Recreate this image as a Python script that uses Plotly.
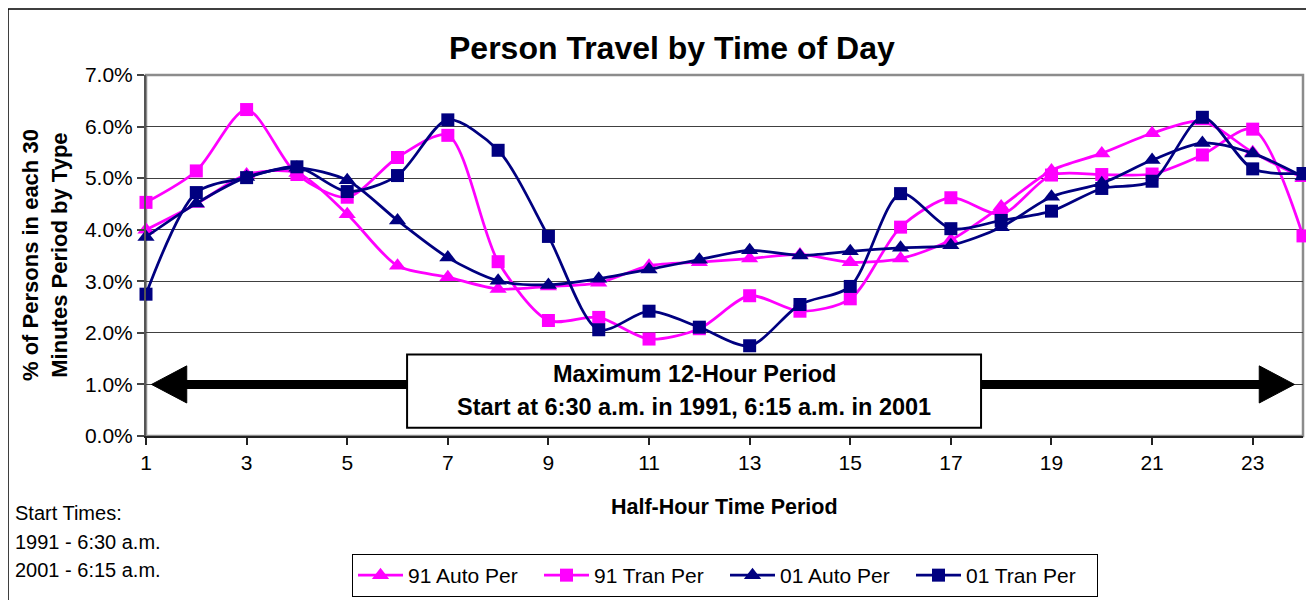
import plotly.graph_objects as go

periods = list(range(1, 25))
auto91 = [4.0, 4.5, 5.07, 5.1, 4.3, 3.3, 3.08, 2.85, 2.9, 2.97, 3.3, 3.37, 3.44, 3.52, 3.37, 3.44, 3.8, 4.45, 5.15, 5.48, 5.87, 6.1, 5.5, 5.0]
tran91 = [4.53, 5.14, 6.33, 5.07, 4.63, 5.4, 5.83, 3.38, 2.24, 2.3, 1.88, 2.08, 2.72, 2.42, 2.66, 4.05, 4.62, 4.3, 5.06, 5.07, 5.08, 5.45, 5.95, 3.88]
auto01 = [3.86, 4.51, 5.02, 5.2, 4.96, 4.18, 3.46, 3.01, 2.93, 3.05, 3.23, 3.42, 3.6, 3.5, 3.58, 3.65, 3.7, 4.05, 4.64, 4.9, 5.35, 5.68, 5.48, 5.03]
tran01 = [2.75, 4.72, 5.01, 5.22, 4.74, 5.05, 6.13, 5.54, 3.87, 2.06, 2.42, 2.11, 1.75, 2.55, 2.9, 4.7, 4.02, 4.18, 4.36, 4.8, 4.94, 6.18, 5.18, 5.09]
series_names = ["91 Auto Per", "91 Tran Per", "01 Auto Per", "01 Tran Per"]
x_ticks = [1, 3, 5, 7, 9, 11, 13, 15, 17, 19, 21, 23]
y_ticks = [0, 1, 2, 3, 4, 5, 6, 7]

MAG = "#FF00FF"
NAVY = "#000080"
FONT = "Arial, Liberation Sans, sans-serif"

fig = go.Figure()
specs = [
    (auto91, series_names[0], MAG, "triangle-up", 15),
    (tran91, series_names[1], MAG, "square", 13),
    (auto01, series_names[2], NAVY, "triangle-up", 15),
    (tran01, series_names[3], NAVY, "square", 13),
]
for vals, name, col, sym, sz in specs:
    fig.add_trace(go.Scatter(
        x=periods, y=vals, name=name, mode="lines+markers",
        line=dict(color=col, width=2.75, shape="spline", smoothing=0.8),
        marker=dict(symbol=sym, size=sz, color=col),
        cliponaxis=False,
    ))

OFF = 8  # page body margin
W, H = 1314 - OFF, 600 - OFF
L = 146 - OFF
T = 75 - OFF
R = W - (1303 - OFF)
B = H - (436 - OFF)
pw, ph = W - L - R, H - T - B

def px(xp):
    return (xp - OFF - L) / pw

def py(yp):
    return (H - B - (yp - OFF)) / ph

shapes = []
# outer chart frame
shapes.append(dict(type="rect", xref="paper", yref="paper", x0=px(8), x1=px(1330), y0=py(620), y1=py(9),
                   line=dict(color="black", width=1.5), fillcolor="rgba(0,0,0,0)", layer="below"))
# plot-area border (gray top/right)
shapes.append(dict(type="rect", xref="paper", yref="paper", x0=0, x1=1, y0=0, y1=1,
                   line=dict(color="#8c8c8c", width=2.5), layer="below"))
# double-headed arrow at 1.0%
shapes.append(dict(type="line", xref="x", yref="y", x0=1.75, x1=23.2, y0=1.0, y1=1.0,
                   line=dict(color="black", width=9)))
shapes.append(dict(type="path", xref="x", yref="y", path="M 1.11,1.0 L 1.81,1.36 L 1.81,0.64 Z",
                   fillcolor="black", line=dict(color="black", width=1)))
shapes.append(dict(type="path", xref="x", yref="y", path="M 23.83,1.0 L 23.13,1.36 L 23.13,0.64 Z",
                   fillcolor="black", line=dict(color="black", width=1)))
# text box
shapes.append(dict(type="rect", xref="x", yref="y", x0=6.19, x1=17.6, y0=0.16, y1=1.58,
                   fillcolor="white", line=dict(color="black", width=2)))

annotations = [
    dict(text="<b>Person Travel by Time of Day</b>", xref="paper", yref="paper", x=px(672), y=py(48),
         xanchor="center", yanchor="middle", showarrow=False, font=dict(size=32, color="black", family=FONT)),
    dict(text="<b>% of Persons in each 30<br>Minutes Period by Type</b>", xref="paper", yref="paper",
         x=px(45), y=py(255), textangle=-90, xanchor="center", yanchor="middle", showarrow=False,
         font=dict(size=22, color="black", family=FONT)),
    dict(text="<b>Half-Hour Time Period</b>", xref="paper", yref="paper", x=px(724), y=py(507),
         xanchor="center", yanchor="middle", showarrow=False, font=dict(size=21.5, color="black", family=FONT)),
    dict(text="Start Times:", xref="paper", yref="paper", x=px(13), y=py(513),
         xanchor="left", yanchor="middle", showarrow=False, font=dict(size=20, color="black", family=FONT)),
    dict(text="1991 - 6:30 a.m.", xref="paper", yref="paper", x=px(13), y=py(542),
         xanchor="left", yanchor="middle", showarrow=False, font=dict(size=20, color="black", family=FONT)),
    dict(text="2001 - 6:15 a.m.", xref="paper", yref="paper", x=px(13), y=py(570),
         xanchor="left", yanchor="middle", showarrow=False, font=dict(size=20, color="black", family=FONT)),
    dict(text="<b>Maximum 12-Hour Period</b>", xref="paper", yref="paper", x=px(694), y=py(374),
         xanchor="center", yanchor="middle", showarrow=False, font=dict(size=23.5, color="black", family=FONT)),
    dict(text="<b>Start at 6:30 a.m. in 1991, 6:15 a.m. in 2001</b>", xref="paper", yref="paper", x=px(694), y=py(407),
         xanchor="center", yanchor="middle", showarrow=False, font=dict(size=23.5, color="black", family=FONT)),
]

fig.update_layout(
    width=W, height=H,
    margin=dict(l=L, r=R, t=T, b=B, pad=0, autoexpand=False),
    paper_bgcolor="white", plot_bgcolor="white",
    font=dict(family=FONT, size=20, color="black"),
    showlegend=True,
    legend=dict(orientation="h", x=px(352), y=py(554), xanchor="left", yanchor="top",
                bordercolor="black", borderwidth=1, bgcolor="white",
                font=dict(size=21, family=FONT, color="black"),
                itemwidth=45, entrywidth=126, entrywidthmode="pixels",
                tracegroupgap=0),
    shapes=shapes,
    annotations=annotations,
    xaxis=dict(range=[1, 24], tickmode="array", tickvals=x_ticks, ticktext=[str(v) for v in x_ticks],
               showgrid=False, zeroline=False, showline=True, linecolor="#222", linewidth=2,
               ticks="outside", ticklen=7, tickcolor="#222", tickwidth=1.5,
               tickfont=dict(size=21, family=FONT, color="black")),
    yaxis=dict(range=[0, 7], tickmode="array", tickvals=y_ticks, ticktext=[f"{v:.1f}%" for v in y_ticks],
               showgrid=True, gridcolor="#404040", gridwidth=1, zeroline=False,
               showline=True, linecolor="#555", linewidth=2,
               ticks="outside", ticklen=7, tickcolor="#444", tickwidth=1.5,
               tickfont=dict(size=21, family=FONT, color="black")),
)

fig.write_html("out.html")
